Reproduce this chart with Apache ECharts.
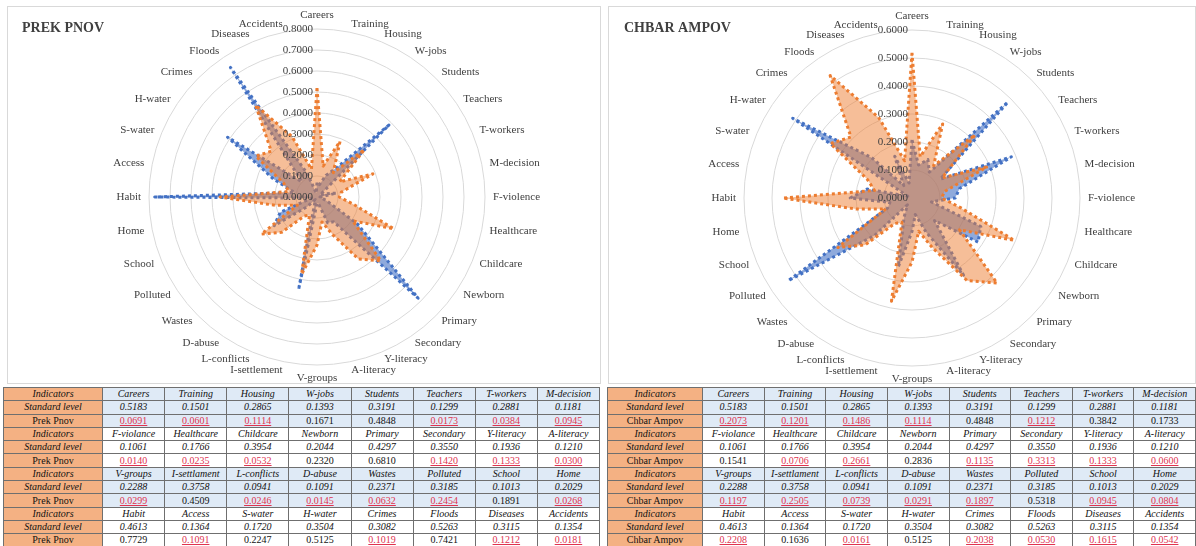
<!DOCTYPE html>
<html>
<head>
<meta charset="utf-8">
<script src="https://cdn.jsdelivr.net/npm/echarts@6/dist/echarts.min.js"></script>
<style>
  body { margin: 0; background: #fff; width: 1196px; height: 546px; overflow: hidden; position: relative; }
  .panel { position: absolute; border: 1px solid #d9d9d9; box-sizing: border-box; }
  #chart { position: absolute; left: 0; top: 0; width: 1196px; height: 386px; }
  table { position: absolute; border-collapse: collapse; table-layout: fixed; font-family: "Liberation Serif", serif; font-size: 10px; color: #111; }
  td { border: 1px solid #6f6f6f; height: 12.3px; padding: 0; text-align: center; line-height: 12px; white-space: nowrap; overflow: hidden; }
  td.head { background: #f4b183; font-style: italic; }
  td.head.reg { font-style: normal; }
  tr.blue td.v { background: #dfeaf6; }
  td.it { font-style: italic; }
  td.low { color: #e0334f; text-decoration: underline; }
</style>
</head>
<body>
<div class="panel" style="left:7px;top:6px;width:594px;height:378px;"></div>
<div class="panel" style="left:608px;top:6px;width:588px;height:378px;"></div>
<div id="chart"></div>
<table id="tLeft" style="left:3px;top:387px;width:597px;"></table>
<table id="tRight" style="left:607px;top:387px;width:589px;"></table>
<script>
// indicator names (chart) and as printed in the tables
var indicators = ['Careers', 'Training', 'Housing', 'W-jobs', 'Students', 'Teachers', 'T-workers', 'M-decision',
  'F-violence', 'Healthcare', 'Childcare', 'Newborn', 'Primary', 'Secondary', 'Y-literacy', 'A-literacy',
  'V-groups', 'I-settlement', 'L-conflicts', 'D-abuse', 'Wastes', 'Polluted', 'School', 'Home',
  'Habit', 'Access', 'S-water', 'H-water', 'Crimes', 'Floods', 'Diseases', 'Accidents'];
var tableNames = ['Careers', 'Training', 'Housing', 'W-jobs', 'Students', 'Teachers', 'T-workers', 'M-decision',
  'F-violance', 'Healthcare', 'Childcare', 'Newborn', 'Primary', 'Secondary', 'Y-literacy', 'A-literacy',
  'V-groups', 'I-settlament', 'L-conflicts', 'D-abuse', 'Wastes', 'Polluted', 'School', 'Home',
  'Habit', 'Access', 'S-water', 'H-water', 'Crimes', 'Floods', 'Diseases', 'Accidents'];

var standardLevel = [0.5183, 0.1501, 0.2865, 0.1393, 0.3191, 0.1299, 0.2881, 0.1181,
  0.1061, 0.1766, 0.3954, 0.2044, 0.4297, 0.3550, 0.1936, 0.1210,
  0.2288, 0.3758, 0.0941, 0.1091, 0.2371, 0.3185, 0.1013, 0.2029,
  0.4613, 0.1364, 0.1720, 0.3504, 0.3082, 0.5263, 0.3115, 0.1354];
var prekPnov = [0.0691, 0.0601, 0.1114, 0.1671, 0.4848, 0.0173, 0.0384, 0.0945,
  0.0140, 0.0235, 0.0532, 0.2320, 0.6810, 0.1420, 0.1333, 0.0300,
  0.0299, 0.4509, 0.0246, 0.0145, 0.0632, 0.2454, 0.1891, 0.0268,
  0.7729, 0.1091, 0.2247, 0.5125, 0.1019, 0.7421, 0.1212, 0.0181];
var chbarAmpov = [0.2073, 0.1201, 0.1486, 0.1114, 0.4848, 0.1212, 0.3842, 0.1733,
  0.1541, 0.0706, 0.2661, 0.2836, 0.1135, 0.3313, 0.1333, 0.0600,
  0.1197, 0.2505, 0.0739, 0.0291, 0.1897, 0.5318, 0.0945, 0.0804,
  0.2208, 0.1636, 0.0161, 0.5125, 0.2038, 0.0530, 0.1615, 0.0542];

var serif = 'Liberation Serif';

// echarts radar runs counter-clockwise; reorder so indicators go clockwise from the top
var order = [0];
for (var j = indicators.length - 1; j > 0; j--) order.push(j);
function cw(arr) { return order.map(function (i) { return arr[i]; }); }

// grid radar (rings + names) and a label-only radar drawn above the fills
function makeRadar(center, max, split, labelsOnly) {
  return {
    z: labelsOnly ? 5 : 1,
    center: center,
    radius: 168,
    shape: 'circle',
    startAngle: 90,
    splitNumber: split,
    indicator: cw(indicators).map(function (n, i) {
      var ind = { name: n, min: 0, max: max };
      if (labelsOnly && i === 0) ind.axisLabel = { show: true };
      return ind;
    }),
    axisName: { show: !labelsOnly, color: '#404040', fontFamily: serif, fontSize: 11 },
    nameGap: 8,
    axisLine: { show: false },
    axisTick: { show: false },
    axisLabel: {
      show: false, fontFamily: serif, fontSize: 11, color: '#404040', margin: 4,
      formatter: function (v) { return v.toFixed(4); }
    },
    splitLine: { show: !labelsOnly, lineStyle: { color: '#d9d9d9', width: 1 } },
    splitArea: { show: false }
  };
}

function makeSeries(idx, region) {
  return {
    type: 'radar',
    radarIndex: idx,
    symbol: 'none',
    z: 2,
    data: [
      {
        value: cw(region),
        lineStyle: { color: '#4472c4', width: 3, type: 'dotted' },
        areaStyle: { color: '#4472c4', opacity: 0.6 }
      },
      {
        value: cw(standardLevel),
        lineStyle: { color: '#ed7d31', width: 3, type: 'dotted' },
        areaStyle: { color: '#ed7d31', opacity: 0.5 }
      }
    ]
  };
}

var chart = echarts.init(document.getElementById('chart'));
chart.setOption({
  animation: false,
  title: [
    { text: 'PREK PNOV', left: 22, top: 21, padding: 0, textStyle: { fontFamily: serif, fontWeight: 'bold', fontSize: 14, color: '#404040' } },
    { text: 'CHBAR AMPOV', left: 624, top: 21, padding: 0, textStyle: { fontFamily: serif, fontWeight: 'bold', fontSize: 14, color: '#404040' } }
  ],
  radar: [
    makeRadar(['317', '197'], 0.8, 8, false),
    makeRadar(['912', '198'], 0.6, 6, false),
    makeRadar(['317', '197'], 0.8, 8, true),
    makeRadar(['912', '198'], 0.6, 6, true)
  ],
  series: [makeSeries(0, prekPnov), makeSeries(1, chbarAmpov)]
});

function buildTable(id, regionName, region, firstCol) {
  var t = document.getElementById(id);
  var html = '<colgroup><col style="width:' + firstCol + 'px">';
  for (var c = 0; c < 8; c++) html += '<col>';
  html += '</colgroup>';
  for (var g = 0; g < 4; g++) {
    var cls = g % 2 === 0 ? 'blue' : '';
    var r1 = '<tr class="' + cls + '"><td class="head">Indicators</td>';
    var r2 = '<tr class="' + cls + '"><td class="head">Standard level</td>';
    var r3 = '<tr class="' + cls + '"><td class="head reg">' + regionName + '</td>';
    for (var k = 0; k < 8; k++) {
      var i = g * 8 + k;
      r1 += '<td class="v it">' + tableNames[i] + '</td>';
      r2 += '<td class="v it">' + standardLevel[i].toFixed(4) + '</td>';
      r3 += '<td class="v' + (region[i] < standardLevel[i] ? ' low' : '') + '">' + region[i].toFixed(4) + '</td>';
    }
    html += r1 + '</tr>' + r2 + '</tr>' + r3 + '</tr>';
  }
  t.innerHTML = html;
}
buildTable('tLeft', 'Prek Pnov', prekPnov, 99);
buildTable('tRight', 'Chbar Ampov', chbarAmpov, 95);
</script>
</body>
</html>
